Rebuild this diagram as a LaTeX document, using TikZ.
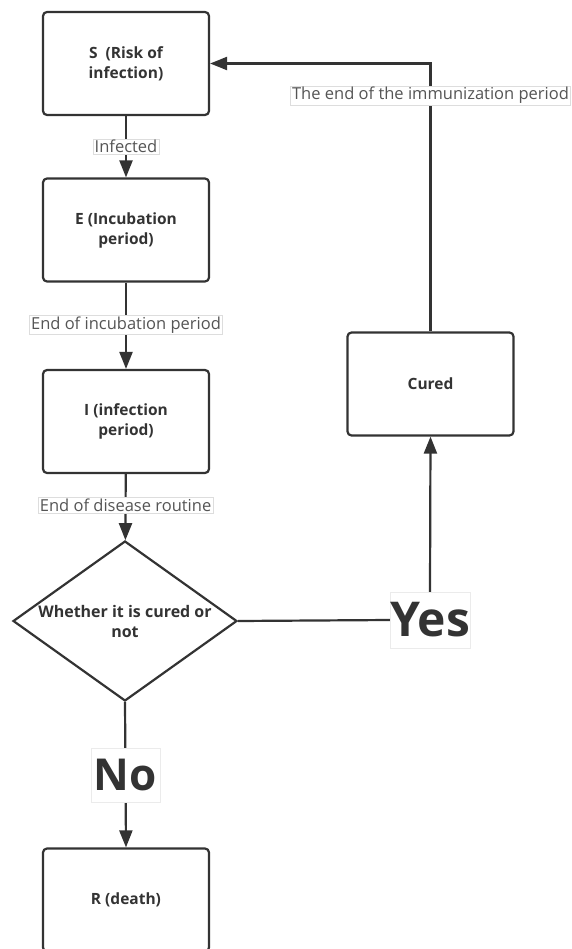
\documentclass[tikz,border=0pt]{standalone}
\usepackage{fontspec}
\setmainfont{Open Sans}
\usetikzlibrary{arrows.meta,shapes.geometric}
\definecolor{ink}{HTML}{333333}
\definecolor{lbl}{HTML}{555555}
\definecolor{lblborder}{HTML}{DDDDDD}
\begin{document}
\begin{tikzpicture}[x=1pt,y=-1pt,
  box/.style={draw=ink,line width=2.2pt,rounded corners=4pt,fill=white,
    minimum width=166pt,minimum height=103pt,inner sep=0pt,align=center,
    font=\bfseries\fontsize{15.5}{20}\selectfont,text=ink},
  dia/.style={draw=ink,line width=2.2pt,shape=diamond,fill=white,
    minimum width=224pt,minimum height=160pt,inner sep=0pt},
  dtext/.style={align=center,inner sep=0pt,font=\bfseries\fontsize{16}{20}\selectfont,text=ink},
  conn/.style={draw=ink,line width=2.2pt},
  arr/.style={conn,-{Triangle[length=17pt,width=13pt]}},
  lab/.style={fill=white,draw=lblborder,line width=0.5pt,inner sep=1.5pt,
    font=\fontsize{16.5}{19}\selectfont,text=lbl},
  big/.style={fill=white,draw=lblborder!60,line width=0.5pt,inner sep=0pt,
    text=ink,font=\bfseries\fontsize{48}{50}\selectfont},
]
\useasboundingbox (0,0) rectangle (571,949);

\node[box] (S) at (126,63.5) {S\ \ (Risk of\\infection)};
\node[box] (E) at (126,230) {E (Incubation\\period)};
\node[box] (I) at (126,421.5) {I (infection\\period)};
\node[box] (C) at (430.5,384) {Cured};
\node[box] (R) at (126,900) {R (death)};
\node[dia] (D) at (125,621) {};
\node[dtext] (DT) at (D.center) {Whether it is cured or\\not};

\node[big,minimum width=80pt,minimum height=56pt] (Y) at (430,620) {Yes};

\draw[arr] (S) -- node[lab] {Infected} (E);
\draw[arr] (E) -- node[lab,yshift=1pt] {End of incubation period} (I);
\draw[arr] (I) -- node[lab,yshift=2pt] {End of disease routine} (D);
\draw[conn] (D.east) -- (Y.west);
\draw[arr] (Y.north) -- (C.south);
\draw[arr] (D.south) -- node[big,minimum width=69pt,minimum height=54pt,font=\bfseries\fontsize{44}{46}\selectfont] (N) {No} (R.north);
\draw[arr] (C.north) |- node[lab,pos=0.44] {The end of the immunization period} (S.east);
\end{tikzpicture}
\end{document}
